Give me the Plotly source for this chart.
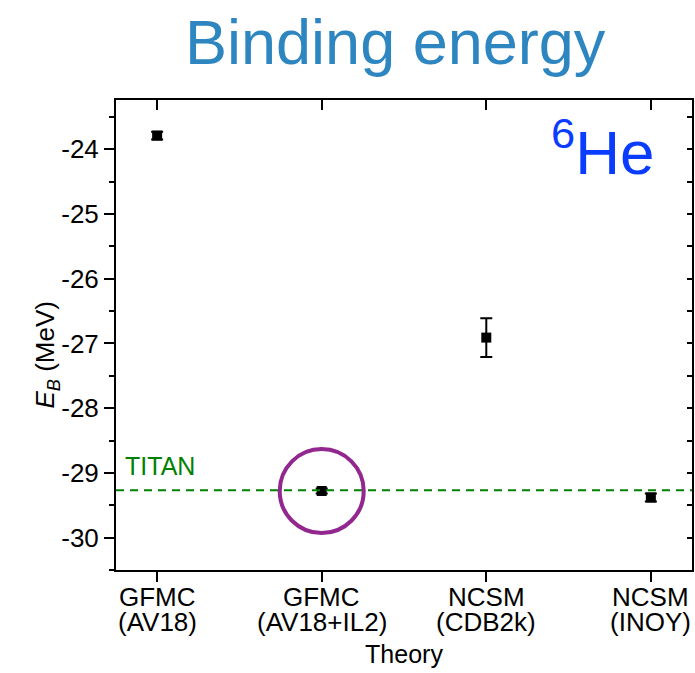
import plotly.graph_objects as go

# ---- data ----
methods = ["GFMC", "GFMC", "NCSM", "NCSM"]
potentials = ["(AV18)", "(AV18+IL2)", "(CDB2k)", "(INOY)"]
positions = [0, 1, 2, 3]
energies = [-23.79, -29.28, -26.91, -29.38]
errors = [0.06, 0.04, 0.30, 0.06]
titan_value = -29.27
highlight_index = 1
ytick_vals = [-30, -29, -28, -27, -26, -25, -24]
ytick_text = ["-30", "-29", "-28", "-27", "-26", "-25", "-24"]

FONT = "Liberation Sans, Arial, sans-serif"

fig = go.Figure()

fig.add_trace(go.Scatter(
    x=positions, y=energies, mode="markers",
    marker=dict(symbol="square", size=10, color="black"),
    error_y=dict(type="data", array=errors, visible=True, color="black",
                 thickness=2, width=6),
    showlegend=False, hoverinfo="skip",
))
# invisible trace to activate mirror axes (top / right)
fig.add_trace(go.Scatter(
    x=positions, y=energies, mode="markers", xaxis="x2", yaxis="y2",
    marker=dict(opacity=0), showlegend=False, hoverinfo="skip",
))

# TITAN line
fig.add_shape(type="line", xref="x domain", yref="y", x0=0, x1=1,
              y0=titan_value, y1=titan_value,
              line=dict(color="#008000", width=2, dash="8px,6px"))

# highlight circle around the chosen point
fig.add_shape(type="circle", xref="x", yref="y",
              xsizemode="pixel", ysizemode="pixel",
              xanchor=positions[highlight_index], yanchor=energies[highlight_index],
              x0=-42, x1=42, y0=-42, y1=42,
              line=dict(color="#92278F", width=4))

xrange = [-0.25, 3.25]
yrange = [-30.5, -23.24]

fig.update_layout(
    width=695, height=673,
    margin=dict(l=116, r=3, t=100, b=103),
    paper_bgcolor="white", plot_bgcolor="white",
    font=dict(family=FONT, color="black"),
    xaxis=dict(
        range=xrange, tickmode="array", tickvals=positions, ticktext=[""] * 4,
        showticklabels=False, ticks="outside", ticklen=10, tickwidth=2, tickcolor="black",
        showline=True, linecolor="black", linewidth=2, showgrid=False, zeroline=False,
        title=dict(text="Theory", font=dict(size=25), standoff=64),
    ),
    yaxis=dict(
        range=yrange, tickmode="array", tickvals=ytick_vals, ticktext=ytick_text,
        ticks="outside", ticklen=10, tickwidth=2, tickcolor="black",
        tickfont=dict(size=26),
        minor=dict(dtick=0.5, tick0=-30, ticks="outside", ticklen=5, tickwidth=2,
                   tickcolor="black", showgrid=False),
        showline=True, linecolor="black", linewidth=2, showgrid=False, zeroline=False,
    ),
    xaxis2=dict(
        overlaying="x", side="top", anchor="y", range=xrange, tickmode="array",
        tickvals=positions, showticklabels=False, ticks="inside", ticklen=10,
        tickwidth=2, tickcolor="black", showline=True, linecolor="black",
        linewidth=2, showgrid=False, zeroline=False,
    ),
    yaxis2=dict(
        overlaying="y", side="right", anchor="x", range=yrange, dtick=0.5, tick0=-30,
        showticklabels=False, ticks="inside", ticklen=5, tickwidth=2,
        tickcolor="black", showline=True, linecolor="black", linewidth=2,
        showgrid=False, zeroline=False,
    ),
)

# category labels (two lines each)
for p, m, pot in zip(positions, methods, potentials):
    fig.add_annotation(x=p, xref="x", y=0, yref="paper", text=m, showarrow=False,
                       xanchor="center", yanchor="top", yshift=-10,
                       font=dict(size=26, color="black"))
    fig.add_annotation(x=p, xref="x", y=0, yref="paper", text=pot, showarrow=False,
                       xanchor="center", yanchor="top", yshift=-35,
                       font=dict(size=26, color="black"))

# y-axis title
fig.add_annotation(x=-0.153, xref="paper", y=0.457, yref="paper",
                   text="<i>E<sub>B</sub></i> (MeV)", textangle=-90, showarrow=False,
                   font=dict(size=26, color="black"))

# chart title
fig.add_annotation(x=0.486, xref="paper", y=1, yref="paper", yshift=58,
                   text="Binding energy", showarrow=False, xanchor="center",
                   yanchor="middle", font=dict(size=63, color="#2E86C1"))

# nucleus label
fig.add_annotation(x=0.938, xref="paper", y=0.985, yref="paper",
                   text="<sup>6</sup>He", showarrow=False, xanchor="right",
                   yanchor="top", font=dict(size=62, color="#0A3CFF"))

# TITAN label
fig.add_annotation(x=0.012, xref="paper", y=titan_value, yref="y", yshift=8,
                   text="TITAN", showarrow=False, xanchor="left", yanchor="bottom",
                   font=dict(size=25, color="#008000"))

fig.write_html("out.html")
